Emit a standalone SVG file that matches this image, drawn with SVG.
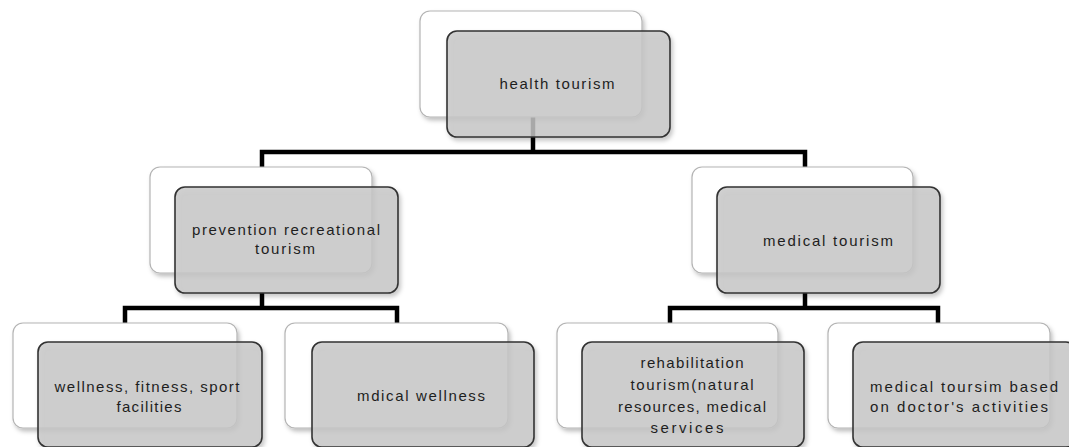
<svg xmlns="http://www.w3.org/2000/svg" width="1069" height="447" viewBox="0 0 1069 447">
<defs>
<filter id="sh" x="-10%" y="-10%" width="125%" height="130%">
<feDropShadow dx="2" dy="3" stdDeviation="2" flood-color="#000" flood-opacity="0.25"/>
</filter>
<style>
.back{fill:#ffffff;stroke:#b4b4b4;stroke-width:1.2;filter:url(#sh)}
.front{fill:#c8c8c8;fill-opacity:0.82;stroke:#333333;stroke-width:1.6;filter:url(#sh)}
.conn{fill:none;stroke:#000;stroke-width:4.5;stroke-linejoin:miter}
text{font-family:"Liberation Sans",Arial,sans-serif;font-size:15px;fill:#1e1e1e;text-anchor:middle}
</style>
</defs>
<rect width="1069" height="447" fill="#ffffff"/>
<g id="connectors">
<path class="conn" d="M533,117 V152"/>
<path class="conn" d="M262,167 V152 H805 V167"/>
<path class="conn" d="M262,293 V308"/>
<path class="conn" d="M125,323 V308 H397 V323"/>
<path class="conn" d="M805,293 V308"/>
<path class="conn" d="M670,323 V308 H938 V323"/>
</g>
<g id="health-tourism">
<rect class="back" x="420" y="11" width="222" height="106" rx="10"/>
<rect class="front" x="447" y="31" width="223" height="106" rx="10"/>
<text x="557" y="89" textLength="115" lengthAdjust="spacing">health tourism</text>
</g>
<g id="prevention-recreational-tourism">
<rect class="back" x="150" y="167" width="222" height="106" rx="10"/>
<rect class="front" x="175" y="187" width="223" height="106" rx="10"/>
<text x="286" y="235" textLength="188" lengthAdjust="spacing">prevention  recreational</text>
<text x="285" y="254" textLength="60" lengthAdjust="spacing">tourism</text>
</g>
<g id="medical-tourism">
<rect class="back" x="692" y="167" width="221" height="106" rx="10"/>
<rect class="front" x="717" y="187" width="223" height="106" rx="10"/>
<text x="828" y="246" textLength="130" lengthAdjust="spacing">medical tourism</text>
</g>
<g id="wellness-fitness">
<rect class="back" x="13" y="323" width="224" height="105" rx="10"/>
<rect class="front" x="38" y="342" width="224" height="105" rx="10"/>
<text x="147" y="392" textLength="185" lengthAdjust="spacing">wellness, fitness,  sport</text>
<text x="149" y="412" textLength="65" lengthAdjust="spacing">facilities</text>
</g>
<g id="mdical-wellness">
<rect class="back" x="285" y="323" width="223" height="105" rx="10"/>
<rect class="front" x="312" y="342" width="222" height="105" rx="10"/>
<text x="421" y="401" textLength="128" lengthAdjust="spacing">mdical wellness</text>
</g>
<g id="rehabilitation-tourism">
<rect class="back" x="557" y="323" width="221" height="105" rx="10"/>
<rect class="front" x="582" y="342" width="222" height="105" rx="10"/>
<text x="692" y="368" textLength="103" lengthAdjust="spacing">rehabilitation</text>
<text x="692" y="390" textLength="123" lengthAdjust="spacing">tourism(natural</text>
<text x="692" y="412" textLength="148" lengthAdjust="spacing">resources,  medical</text>
<text x="687" y="433" textLength="73" lengthAdjust="spacing">services</text>
</g>
<g id="doctor-activities">
<rect class="back" x="828" y="323" width="222" height="105" rx="10"/>
<rect class="front" x="853" y="342" width="223" height="105" rx="10"/>
<text x="964" y="392" textLength="188" lengthAdjust="spacing">medical toursim  based</text>
<text x="959" y="412" textLength="178" lengthAdjust="spacing">on doctor's  activities</text>
</g>
</svg>
